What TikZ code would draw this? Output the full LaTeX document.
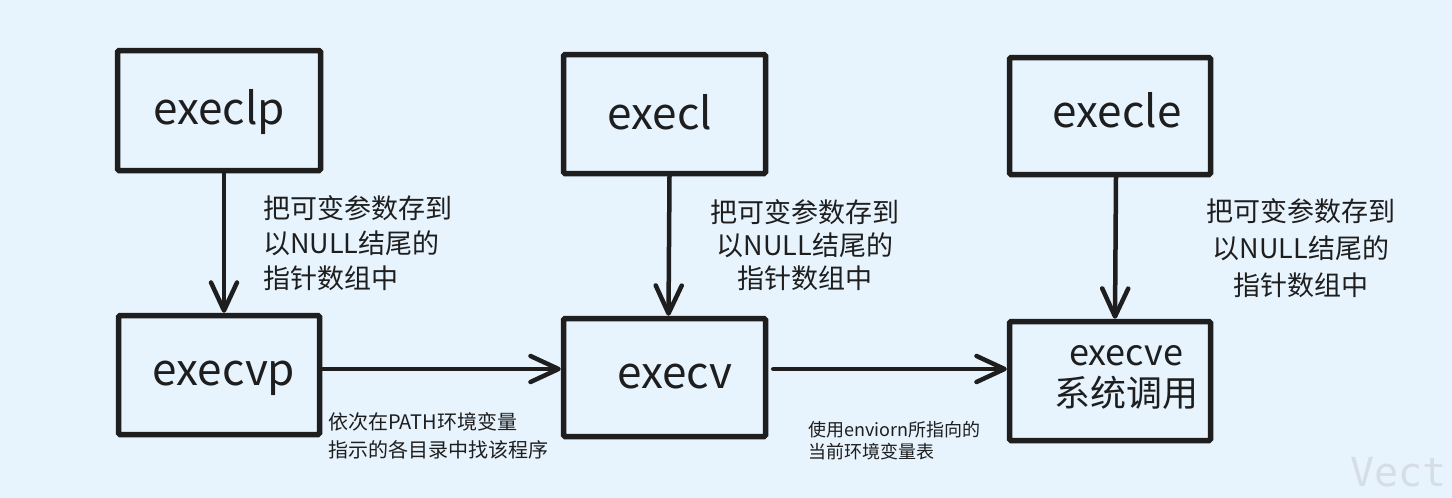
\documentclass[tikz,border=0pt]{standalone}
\usepackage{fontspec}
\setmainfont{Noto Sans CJK SC}
\newfontfamily\wmfont{DejaVu Sans Mono}
\usetikzlibrary{arrows.meta}
\definecolor{bgcol}{RGB}{231,243,253}
\definecolor{ink}{RGB}{30,30,30}
\definecolor{wm}{RGB}{214,221,229}
\tikzset{
  box/.style={draw=ink, line width=5.5pt, rounded corners=1.5pt, fill=bgcol, minimum width=#1, inner sep=0pt},
  boxtext/.style={text=ink, inner sep=0pt, font=\fontsize{44}{50}\selectfont},
  arr/.style={draw=ink, line width=4.5pt, line cap=round, -{Straight Barb[length=28pt,width=26pt,line width=4.5pt,round]}},
  note/.style={text=ink, inner sep=0pt, font=\fontsize{27}{35}\selectfont},
  small/.style={text=ink, inner sep=0pt, anchor=west, align=left}
}
\begin{document}
\begin{tikzpicture}[x=1pt,y=-1pt]
\fill[bgcol] (0,0) rectangle (1452,498);
\useasboundingbox (0,0) rectangle (1452,498);
% boxes
\node[box=203pt, minimum height=120pt] (execlp) at (219,110.5) {};
\node[box=201pt, minimum height=119pt] (execvp) at (219,375) {};
\node[box=202pt, minimum height=119pt] (execl) at (664.5,114) {};
\node[box=202pt, minimum height=118pt] (execv) at (664.5,377.5) {};
\node[box=201pt, minimum height=117pt] (execle) at (1110,116) {};
\node[box=201pt, minimum height=119pt] (execve) at (1110,381) {};
% box texts
\node[boxtext] (t1) at (219,112) {execlp};
\node[boxtext] (t2) at (224,378) {execvp};
\node[boxtext] (t3) at (660,112) {execl};
\node[boxtext] (t4) at (675,377) {execv};
\node[boxtext] (t5) at (1117,110) {execle};
\node[text=ink, inner sep=0pt, font=\fontsize{36}{41}\selectfont, align=center] (t6) at (1126,377) {execve\\\fontsize{36}{41}\selectfont 系统调用};
% arrows
\draw[arr] ([xshift=5pt]execlp.south) -- ([xshift=5pt]execvp.north);
\draw[arr] ([xshift=5pt]execl.south) -- ([xshift=4pt]execv.north);
\draw[arr] ([xshift=6pt]execle.south) -- ([xshift=5pt]execve.north);
\draw[arr] ([yshift=6pt]execvp.east) -- ([yshift=8.5pt]execv.west);
\draw[arr] ([shift={(5pt,8.5pt)}]execv.east) -- ([yshift=12pt]execve.west);
% notes
\node[note, anchor=west, align=left] (n1) at (263,243) {把可变参数存到\\以NULL结尾的\\指针数组中};
\node[note, align=center, font=\fontsize{27}{33}\selectfont] (n2) at (805,245) {把可变参数存到\\以NULL结尾的\\指针数组中};
\node[note, align=center, font=\fontsize{27}{37}\selectfont] (n3) at (1301,248) {把可变参数存到\\以NULL结尾的\\指针数组中};
\node[small, font=\fontsize{20}{28}\selectfont] (s1) at (328,436) {依次在PATH环境变量\\指示的各目录中找该程序};
\node[small, font=\fontsize{18}{22}\selectfont] (s2) at (808,441) {使用enviorn所指向的\\当前环境变量表};
% watermark
\node[text=wm, anchor=west, inner sep=0pt, font=\wmfont\fontsize{40}{44}\selectfont] (wmk) at (1350,472) {Vect};
\end{tikzpicture}
\end{document}
